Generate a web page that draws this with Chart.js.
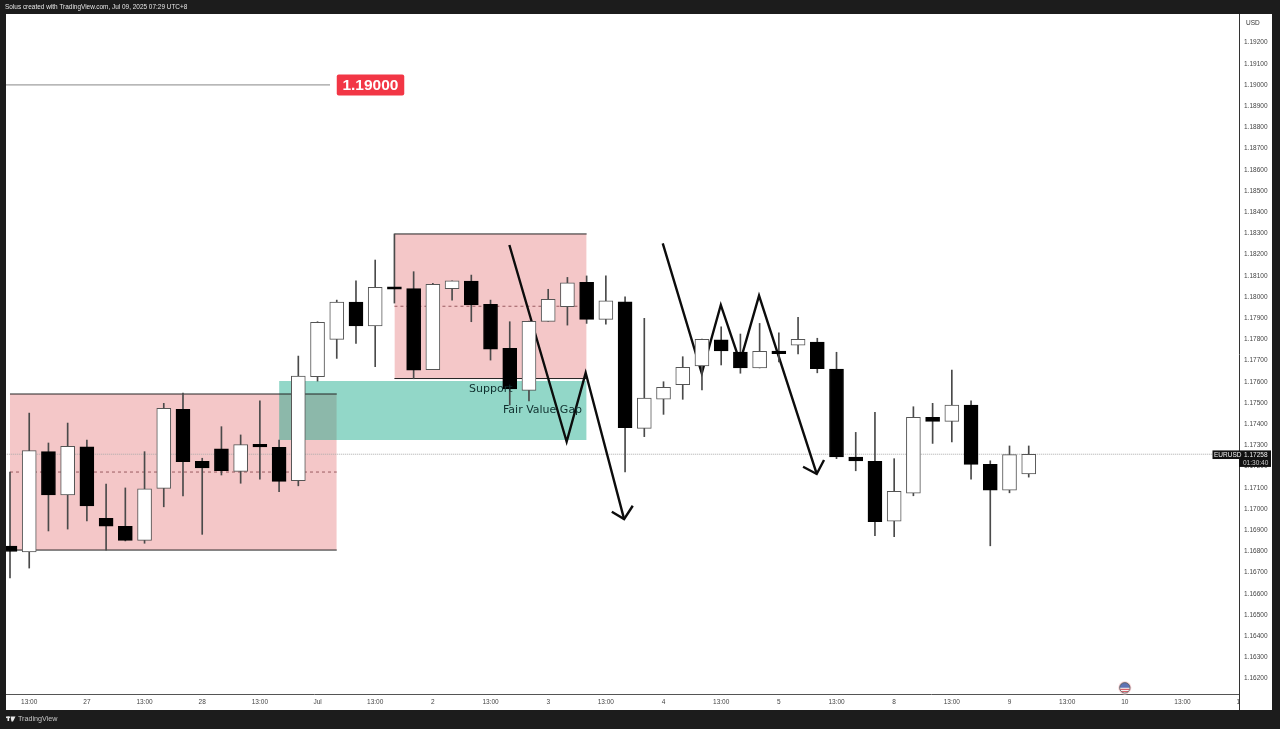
<!DOCTYPE html>
<html>
<head>
<meta charset="utf-8">
<title>EURUSD</title>
<style>
  html, body { margin: 0; padding: 0; background: #1c1c1c; }
  canvas { display: block; }
</style>
<script src="https://cdn.jsdelivr.net/npm/chart.js@4/dist/chart.umd.min.js"></script>
</head>
<body>
<canvas id="chart" width="1280" height="729"></canvas>
<script>
const opens = [1.16825, 1.16797, 1.17270, 1.17066, 1.17293, 1.16956, 1.16918, 1.16852, 1.17097, 1.17470,
  1.17225, 1.17283, 1.17177, 1.17305, 1.17291, 1.17133, 1.17624, 1.17800, 1.17976, 1.17863,
  1.18048, 1.18039, 1.17657, 1.18039, 1.18075, 1.17965, 1.17758, 1.17559, 1.17885, 1.17954,
  1.18069, 1.17894, 1.17977, 1.17380, 1.17518, 1.17586, 1.17674, 1.17798, 1.17740, 1.17665,
  1.17745, 1.17772, 1.17787, 1.17660, 1.17245, 1.17225, 1.16942, 1.17074, 1.17432, 1.17413,
  1.17490, 1.17210, 1.17088, 1.17165];
const highs = [1.17174, 1.17452, 1.17311, 1.17405, 1.17325, 1.17117, 1.17099, 1.17270, 1.17498, 1.17547,
  1.17239, 1.17388, 1.17349, 1.17510, 1.17325, 1.17721, 1.17883, 1.17985, 1.18076, 1.18174,
  1.18297, 1.18119, 1.18064, 1.18076, 1.18103, 1.17985, 1.17883, 1.17886, 1.18036, 1.18092,
  1.18099, 1.18100, 1.18001, 1.17899, 1.17600, 1.17718, 1.17801, 1.17859, 1.17825, 1.17875,
  1.17831, 1.17904, 1.17805, 1.17739, 1.17361, 1.17456, 1.17237, 1.17482, 1.17498, 1.17655,
  1.17510, 1.17227, 1.17297, 1.17297];
const lows = [1.16674, 1.16721, 1.16896, 1.16905, 1.16943, 1.16806, 1.16849, 1.16838, 1.17010, 1.17061,
  1.16880, 1.17160, 1.17121, 1.17140, 1.17081, 1.17109, 1.17603, 1.17710, 1.17781, 1.17671,
  1.17971, 1.17614, 1.17657, 1.17985, 1.17883, 1.17702, 1.17490, 1.17509, 1.17885, 1.17867,
  1.17875, 1.17871, 1.17175, 1.17341, 1.17446, 1.17517, 1.17561, 1.17679, 1.17640, 1.17665,
  1.17693, 1.17731, 1.17642, 1.17237, 1.17180, 1.16874, 1.16869, 1.17062, 1.17309, 1.17316,
  1.17140, 1.16826, 1.17076, 1.17150];
const closes = [1.16799, 1.17275, 1.17066, 1.17295, 1.17014, 1.16919, 1.16852, 1.17095, 1.17475, 1.17223,
  1.17193, 1.17180, 1.17303, 1.17293, 1.17130, 1.17627, 1.17880, 1.17976, 1.17863, 1.18045,
  1.18036, 1.17654, 1.18059, 1.18076, 1.17962, 1.17754, 1.17566, 1.17885, 1.17989, 1.18067,
  1.17894, 1.17981, 1.17383, 1.17523, 1.17574, 1.17668, 1.17800, 1.17745, 1.17665, 1.17743,
  1.17732, 1.17800, 1.17661, 1.17245, 1.17227, 1.16940, 1.17083, 1.17432, 1.17413, 1.17490,
  1.17210, 1.17088, 1.17256, 1.17258];

const xTickPositions = [1, 4, 7, 10, 13, 16, 19, 22, 25, 28, 31, 34, 37, 40, 43, 46, 49, 52, 55, 58, 61, 63.9];
const xTickLabels = ["13:00", "27", "13:00", "28", "13:00", "Jul", "13:00", "2", "13:00", "3", "13:00", "4",
  "13:00", "5", "13:00", "8", "13:00", "9", "13:00", "10", "13:00", "1"];
const priceTicks = [1.192, 1.191, 1.19, 1.189, 1.188, 1.187, 1.186, 1.185, 1.184, 1.183, 1.182, 1.181, 1.18,
  1.179, 1.178, 1.177, 1.176, 1.175, 1.174, 1.173, 1.172, 1.171, 1.17, 1.169, 1.168, 1.167, 1.166, 1.165,
  1.164, 1.163, 1.162];

// zones: [first bar, last bar, top price, bottom price]
const zoneOne = [0, 17, 1.17542, 1.16806];
const zoneTwo = [20, 30, 1.18297, 1.17615];
const fairValueGap = [14, 30, 1.17603, 1.17325];

const arrowOne = [[25.98, 1.18245], [28.96, 1.17317], [29.95, 1.17642], [31.95, 1.16952]];
const arrowOneHead = [[31.31, 1.16987], [31.95, 1.16952], [32.4, 1.17015]];
const arrowTwo = [[33.96, 1.18253], [35.99, 1.1764], [36.98, 1.17962], [37.98, 1.17693], [38.97, 1.18006], [41.97, 1.17165]];
const arrowTwoHead = [[41.26, 1.17199], [41.97, 1.17165], [42.35, 1.17231]];

const levelPrice = 1.19;
const levelEnd = 16.65;
const lastPrice = 1.17258;

const DARK = "#1c1c1c";
const SANS = "'Liberation Sans', Arial, sans-serif";

function path(points, color, width, order, dash) {
  return {
    type: "line",
    data: points.map((p) => ({ x: p[0], y: p[1] })),
    borderColor: color,
    borderWidth: width,
    borderDash: dash || [],
    borderJoinStyle: "miter",
    pointRadius: 0,
    fill: false,
    order: order,
  };
}

function zoneFill(zone, color, order) {
  return {
    type: "line",
    data: [{ x: zone[0], y: zone[2] }, { x: zone[1], y: zone[2] }],
    borderWidth: 0,
    borderColor: "rgba(0,0,0,0)",
    backgroundColor: color,
    pointRadius: 0,
    fill: { value: zone[3] },
    order: order,
  };
}

function zoneEdges(zone, order) {
  return [
    path([[zone[0], zone[2]], [zone[1], zone[2]]], "#222", 1, order),
    path([[zone[0], zone[3]], [zone[1], zone[3]]], "#222", 1, order),
    path([[zone[0], (zone[2] + zone[3]) / 2], [zone[1], (zone[2] + zone[3]) / 2]], "#9a5a60", 1, order, [3, 3]),
  ];
}

const candleIdx = opens.map((v, i) => i);
const isUp = candleIdx.map((i) => closes[i] >= opens[i]);

const frame = {
  id: "frame",
  beforeDraw(chart) {
    const c = chart.ctx;
    c.save();
    c.fillStyle = DARK;
    c.fillRect(0, 0, 1280, 729);
    c.fillStyle = "#fff";
    c.fillRect(6, 14, 1266, 696);
    c.restore();
  },
  afterDraw(chart) {
    const c = chart.ctx;
    const x = chart.scales.x;
    const y = chart.scales.y;
    c.save();
    c.textBaseline = "middle";

    // notes on the chart
    c.font = "11px 'DejaVu Sans'";
    c.fillStyle = "#10302f";
    c.textAlign = "left";
    c.fillText("Support", x.getPixelForValue(23.88), y.getPixelForValue(1.17563));
    c.fillText("Fair Value Gap", x.getPixelForValue(25.65), y.getPixelForValue(1.17465));

    // level badge
    const bx = x.getPixelForValue(17);
    const by = y.getPixelForValue(levelPrice);
    c.fillStyle = "#f23645";
    c.beginPath();
    c.roundRect(bx, by - 10.5, 67.5, 21, 2);
    c.fill();
    c.fillStyle = "#fff";
    c.font = "bold 15.5px " + SANS;
    c.textAlign = "center";
    c.fillText("1.19000", bx + 33.7, by + 0.5);

    // top and bottom bars
    c.textAlign = "left";
    c.font = "6.45px " + SANS;
    c.fillStyle = "#e6e6e6";
    c.fillText("Solus created with TradingView.com, Jul 09, 2025 07:29 UTC+8", 5, 7.5);
    c.font = "7.2px " + SANS;
    c.fillStyle = "#c8c8c8";
    c.fillText("TradingView", 18, 719.5);
    c.fillStyle = "#e8e8e8";
    c.fillRect(6, 716.5, 4, 1.6);
    c.fillRect(7.5, 716.5, 1.6, 4.5);
    c.beginPath();
    c.moveTo(10.5, 716.5); c.lineTo(15.5, 716.5); c.lineTo(13, 721.5); c.lineTo(11.5, 721.5);
    c.fill();

    // price axis line runs down through the time axis
    c.fillStyle = "#333";
    c.fillRect(1239, 694, 1, 16);

    // axis side labels
    c.font = "6.5px " + SANS;
    c.fillText("USD", 1246, 23);

    const py = y.getPixelForValue(lastPrice);
    c.fillStyle = "#111";
    c.fillRect(1212.5, py - 3.8, 26.5, 8.6);
    c.fillRect(1239, py - 3.8, 32, 16.5);
    c.fillStyle = "#f0f0f0";
    c.font = "6.5px " + SANS;
    c.fillText("EURUSD", 1214, py + 0.6);
    c.fillText("1.17258", 1244, py + 0.6);
    c.fillStyle = "#cfcfcf";
    c.fillText("01:30:40", 1243, py + 8.6);

    // event flag
    const fx = x.getPixelForValue(58);
    const fy = 687.8;
    c.fillStyle = "#f8d4d8";
    c.beginPath(); c.arc(fx, fy, 6.6, 0, Math.PI * 2); c.fill();
    c.fillStyle = "#f2f2f2";
    c.beginPath(); c.arc(fx, fy, 5.2, 0, Math.PI * 2); c.fill();
    c.fillStyle = "#5f73b4";
    c.beginPath(); c.arc(fx, fy, 5.2, Math.PI, Math.PI * 2); c.fill();
    c.fillStyle = "#d9606a";
    c.fillRect(fx - 4.6, fy + 1, 9.2, 1.2);
    c.fillRect(fx - 3.4, fy + 3.2, 6.8, 1);
    c.strokeStyle = "#555";
    c.lineWidth = 0.8;
    c.beginPath(); c.arc(fx, fy, 5.2, 0, Math.PI * 2); c.stroke();

    c.restore();
  },
};

new Chart(document.getElementById("chart"), {
  type: "bar",
  data: {
    datasets: [
      zoneFill(zoneOne, "rgb(244,199,200)", 20),
      zoneFill(zoneTwo, "rgb(244,199,200)", 20),
      zoneFill(fairValueGap, "rgba(13,166,133,0.45)", 17),
      ...zoneEdges(zoneOne, 16),
      ...zoneEdges(zoneTwo, 16),
      path([[-1, lastPrice], [65, lastPrice]], "#aaa", 1, 15, [1, 1]),
      path([[-1, levelPrice], [levelEnd, levelPrice]], "#888", 1, 15),
      path(arrowOne, "#0c0c0c", 2.4, 5),
      path(arrowOneHead, "#0c0c0c", 2.4, 5),
      path(arrowTwo, "#0c0c0c", 2.4, 5),
      path(arrowTwoHead, "#0c0c0c", 2.4, 5),
      {
        // wicks
        data: candleIdx.map((i) => ({ x: i, y: [lows[i], highs[i]] })),
        backgroundColor: "#4a4a4a",
        barThickness: 1,
        grouped: false,
        order: 2,
      },
      {
        // bodies
        data: candleIdx.map((i) => ({ x: i, y: [opens[i], closes[i]] })),
        backgroundColor: isUp.map((up) => (up ? "#fff" : "#000")),
        borderColor: isUp.map((up) => (up ? "#555" : "#000")),
        borderWidth: 1,
        borderSkipped: false,
        barThickness: 14,
        grouped: false,
        order: 1,
      },
    ],
  },
  options: {
    responsive: false,
    animation: false,
    events: [],
    layout: { autoPadding: false, padding: { left: 6, right: 8, top: 14, bottom: 19 } },
    plugins: { legend: { display: false }, tooltip: { enabled: false } },
    scales: {
      x: {
        type: "linear",
        offset: false,
        min: -0.208,
        max: 63.94,
        grid: { display: false, drawTicks: false },
        border: { color: "#555", width: 1 },
        afterBuildTicks: (s) => { s.ticks = xTickPositions.map((v) => ({ value: v })); },
        afterFit: (s) => { s.height = 16; },
        ticks: {
          autoSkip: false,
          maxRotation: 0,
          padding: 4,
          color: "#444",
          font: { size: 6.5, family: SANS },
          callback: (v) => xTickLabels[xTickPositions.indexOf(v)],
        },
      },
      y: {
        position: "right",
        min: 1.16127,
        max: 1.193345,
        grid: { display: false, drawTicks: false },
        border: { color: "#333", width: 1 },
        afterBuildTicks: (s) => { s.ticks = priceTicks.map((v) => ({ value: v })); },
        afterFit: (s) => { s.width = 33; },
        ticks: {
          autoSkip: false,
          padding: 5,
          align: "center",
          crossAlign: "near",
          color: "#444",
          font: { size: 6.5, family: SANS },
          callback: (v) => v.toFixed(5),
        },
      },
    },
  },
  plugins: [frame],
});
</script>
</body>
</html>
